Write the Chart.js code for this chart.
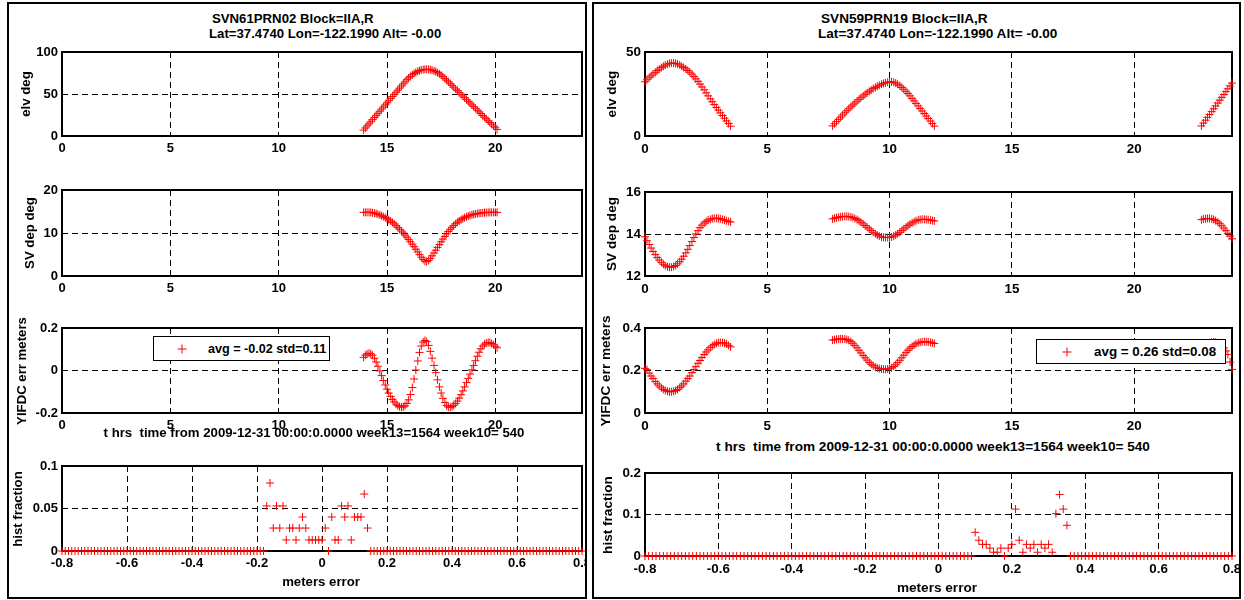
<!DOCTYPE html>
<html>
<head>
<meta charset="utf-8">
<script src="https://cdn.jsdelivr.net/npm/chart.js@4.4.1/dist/chart.umd.min.js"></script>
<style>
  html, body { margin: 0; padding: 0; background: #fff; }
  body { width: 1244px; height: 600px; position: relative; overflow: hidden;
         font-family: 'Liberation Sans', Arial, sans-serif; font-weight: bold; color: #000; }
  .panel { position: absolute; top: 2px; height: 597px; border: 2px solid #000;
           box-sizing: border-box; overflow: hidden; background: #fff; }
  .t { position: absolute; white-space: nowrap; font-size: 13.2px; line-height: 1; z-index: 2; }
  .r13 { font-size: 13.6px; }
  .lft { transform: translate(0, -50%); }
  .ctr { transform: translate(-50%, -50%); }
  .rot { transform: translate(-50%, -50%) rotate(-90deg); }
  .legend { position: absolute; border: 1px solid #000; background: #fff; z-index: 3; box-sizing: border-box; }
  .legend .lab { position: absolute; top: 50%; transform: translate(0, -50%); white-space: nowrap;
                 font-size: 12.6px; line-height: 1; }
  .mk { position: absolute; width: 9px; height: 9px; transform: translate(-50%, -50%); }
  .mk::before { content: ''; position: absolute; left: 4px; top: 0; width: 1px; height: 9px; background: #f00; }
  .mk::after  { content: ''; position: absolute; left: 0; top: 4px; width: 9px; height: 1px; background: #f00; }
</style>
</head>
<body>
<div id="panelL" class="panel" style="left:7px;width:580px;"></div>
<div id="panelR" class="panel" style="left:592px;width:649px;"></div>

<!-- left figure texts -->
<div class="t lft" style="left:212px;top:19.3px;">SVN61PRN02 Block=IIA,R</div>
<div class="t lft" style="left:209px;top:34.3px;">Lat=37.4740 Lon=-122.1990 Alt= -0.00</div>
<div class="t rot" style="left:25.7px;top:94px;">elv deg</div>
<div class="t rot" style="left:29.5px;top:233px;">SV dep deg</div>
<div class="t rot" style="left:22px;top:370.5px;">YIFDC err meters</div>
<div class="t rot" style="left:17.5px;top:508.5px;">hist fraction</div>
<div class="t ctr" style="left:314px;top:433.3px;">t hrs&nbsp; time from 2009-12-31 00:00:0.0000 week13=1564 week10= 540</div>
<div class="t ctr" style="left:321px;top:581.7px;">meters error</div>
<div class="legend" style="left:153px;top:336px;width:177px;height:25px;">
  <div class="mk" style="left:28px;top:12px;"></div>
  <div class="lab" style="left:54px;">avg = -0.02 std=0.11</div>
</div>

<!-- right figure texts -->
<div class="t r13 lft" style="left:821px;top:19.3px;">SVN59PRN19 Block=IIA,R</div>
<div class="t r13 lft" style="left:818px;top:34.3px;">Lat=37.4740 Lon=-122.1990 Alt= -0.00</div>
<div class="t r13 rot" style="left:611.7px;top:94px;">elv deg</div>
<div class="t r13 rot" style="left:611.7px;top:234px;">SV dep deg</div>
<div class="t r13 rot" style="left:605.6px;top:370.5px;">YIFDC err meters</div>
<div class="t r13 rot" style="left:607.7px;top:514.5px;">hist fraction</div>
<div class="t r13 ctr" style="left:933px;top:446.7px;">t hrs&nbsp; time from 2009-12-31 00:00:0.0000 week13=1564 week10= 540</div>
<div class="t r13 ctr" style="left:937px;top:588.3px;">meters error</div>
<div class="legend" style="left:1036px;top:339px;width:190px;height:25px;">
  <div class="mk" style="left:30px;top:12px;"></div>
  <div class="lab" style="left:57px;font-size:13.4px;">avg = 0.26 std=0.08</div>
</div>

<script>
// ---------------- SVN61 / PRN02 (hours since 2009-12-31 00:00) ----------------
const timeL = [13.92,
  14.00,14.08,14.17,14.25,14.33,14.42,14.50,14.58,14.67,14.75,14.83,14.92,
  15.00,15.08,15.17,15.25,15.33,15.42,15.50,15.58,15.67,15.75,15.83,15.92,
  16.00,16.08,16.17,16.25,16.33,16.42,16.50,16.58,16.67,16.75,16.83,16.92,
  17.00,17.08,17.17,17.25,17.33,17.42,17.50,17.58,17.67,17.75,17.83,17.92,
  18.00,18.08,18.17,18.25,18.33,18.42,18.50,18.58,18.67,18.75,18.83,18.92,
  19.00,19.08,19.17,19.25,19.33,19.42,19.50,19.58,19.67,19.75,19.83,19.92,
  20.00,20.08];
const elvL = [7.0,
  9.5,12.0,14.5,17.0,19.5,22.0,24.5,27.0,29.5,32.0,34.5,37.0,
  39.5,42.0,44.5,47.0,49.5,52.0,54.5,57.0,59.5,62.0,64.4,67.0,
  69.1,71.0,72.9,74.4,75.7,76.9,77.8,78.5,79.0,79.3,79.4,79.3,
  79.0,78.4,77.6,76.7,75.5,74.0,72.5,70.7,68.6,66.5,64.5,62.3,
  60.3,58.2,55.9,53.9,51.9,49.6,47.6,45.6,43.3,41.3,39.3,37.0,
  35.0,33.0,30.7,28.7,26.7,24.4,22.4,20.4,18.1,16.1,14.1,11.8,
  9.8,7.8];
const depL = [14.8,
  14.8,14.8,14.8,14.78,14.72,14.62,14.5,14.36,14.2,14.02,13.82,13.6,
  13.35,13.08,12.78,12.45,12.1,11.72,11.32,10.9,10.46,10.0,9.52,9.02,
  8.5,7.96,7.4,6.82,6.22,5.6,4.98,4.38,3.85,3.45,3.35,3.6,
  4.1,4.7,5.35,6.0,6.65,7.3,7.95,8.6,9.2,9.8,10.35,10.85,
  11.32,11.75,12.15,12.5,12.82,13.1,13.35,13.58,13.78,13.95,14.1,14.23,
  14.34,14.44,14.52,14.59,14.65,14.7,14.74,14.77,14.79,14.8,14.8,14.8,
  14.8,14.8];
const errL = [0.062,
  0.072,0.078,0.081,0.079,0.072,0.058,0.040,0.020,-0.002,-0.024,-0.047,-0.068,
  -0.088,-0.106,-0.122,-0.136,-0.148,-0.158,-0.165,-0.170,-0.172,-0.171,-0.166,-0.155,
  -0.138,-0.113,-0.080,-0.040,0.002,0.045,0.085,0.115,0.134,0.141,0.136,0.118,
  0.090,0.058,0.024,-0.010,-0.044,-0.077,-0.106,-0.131,-0.151,-0.165,-0.172,-0.173,
  -0.170,-0.164,-0.155,-0.144,-0.130,-0.114,-0.096,-0.077,-0.057,-0.037,-0.017,0.003,
  0.024,0.046,0.067,0.086,0.102,0.115,0.124,0.130,0.132,0.131,0.127,0.121,
  0.114,0.107];

// ---------------- SVN59 / PRN19 ----------------
const timeR = [
  0.00,0.08,0.17,0.25,0.33,0.42,0.50,0.58,0.67,0.75,0.83,0.92,
  1.00,1.08,1.17,1.25,1.33,1.42,1.50,1.58,1.67,1.75,1.83,1.92,
  2.00,2.08,2.17,2.25,2.33,2.42,2.50,2.58,2.67,2.75,2.83,2.92,
  3.00,3.08,3.17,3.25,3.33,3.42,3.50,
  7.67,7.75,7.83,7.92,
  8.00,8.08,8.17,8.25,8.33,8.42,8.50,8.58,8.67,8.75,8.83,8.92,
  9.00,9.08,9.17,9.25,9.33,9.42,9.50,9.58,9.67,9.75,9.83,9.92,
  10.00,10.08,10.17,10.25,10.33,10.42,10.50,10.58,10.67,10.75,10.83,10.92,
  11.00,11.08,11.17,11.25,11.33,11.42,11.50,11.58,11.67,11.75,11.83,
  22.75,22.83,22.92,
  23.00,23.08,23.17,23.25,23.33,23.42,23.50,23.58,23.67,23.75,23.83,23.92,
  24.00];
const elvR = [
  32.3,33.5,34.7,35.8,36.9,37.9,38.9,39.8,40.7,41.5,42.2,42.8,
  43.2,43.4,43.4,43.2,42.9,42.3,41.5,40.8,39.9,39.0,38.0,36.8,
  35.4,34.0,32.5,30.9,29.2,27.5,25.7,23.9,22.1,20.4,18.7,17.0,
  15.4,13.8,12.2,10.6,9.0,7.4,5.8,
  6.0,7.3,8.6,9.9,
  11.2,12.5,13.8,15.0,16.2,17.4,18.5,19.6,20.7,21.8,22.8,23.8,
  24.8,25.7,26.6,27.4,28.2,28.9,29.6,30.2,30.8,31.3,31.7,32.0,
  32.2,32.2,32.0,31.5,30.8,29.9,28.9,27.8,26.6,25.3,23.9,22.4,
  20.9,19.4,17.9,16.4,14.9,13.4,11.9,10.4,8.9,7.4,5.9,
  6.0,7.7,9.4,
  11.1,12.8,14.5,16.2,17.9,19.6,21.3,23.0,24.7,26.4,28.1,29.8,
  31.5];
const depR = [
  13.87,13.68,13.5,13.33,13.17,13.02,12.88,12.76,12.65,12.56,12.49,12.44,
  12.42,12.42,12.45,12.5,12.58,12.68,12.8,12.94,13.1,13.27,13.45,13.64,
  13.83,14.0,14.16,14.3,14.42,14.52,14.6,14.66,14.7,14.73,14.75,14.75,
  14.74,14.72,14.69,14.66,14.63,14.6,14.57,
  14.72,14.75,14.78,14.8,
  14.82,14.83,14.84,14.84,14.83,14.81,14.78,14.74,14.69,14.63,14.56,14.48,
  14.4,14.32,14.24,14.16,14.08,14.01,13.95,13.9,13.86,13.84,13.83,13.83,
  13.84,13.86,13.9,13.95,14.01,14.08,14.16,14.24,14.32,14.4,14.47,14.53,
  14.58,14.63,14.67,14.69,14.7,14.7,14.69,14.68,14.66,14.64,14.62,
  14.68,14.71,14.73,
  14.74,14.74,14.72,14.69,14.64,14.57,14.49,14.39,14.28,14.16,14.03,13.9,
  13.77];
const errR = [
  0.210,0.204,0.188,0.174,0.162,0.148,0.137,0.127,0.118,0.111,0.106,0.102,
  0.100,0.100,0.102,0.106,0.111,0.119,0.127,0.137,0.150,0.162,0.174,0.190,
  0.204,0.218,0.234,0.247,0.261,0.275,0.287,0.297,0.308,0.316,0.322,0.328,
  0.331,0.332,0.331,0.329,0.325,0.318,0.311,
  0.343,0.345,0.347,0.348,
  0.349,0.349,0.348,0.346,0.342,0.336,0.328,0.318,0.307,0.295,0.283,0.271,
  0.260,0.249,0.238,0.229,0.222,0.216,0.212,0.209,0.207,0.206,0.206,0.207,
  0.209,0.213,0.219,0.227,0.237,0.248,0.260,0.272,0.284,0.295,0.305,0.313,
  0.320,0.326,0.330,0.333,0.335,0.336,0.335,0.334,0.332,0.330,0.327,
  0.300,0.310,0.318,
  0.325,0.330,0.333,0.334,0.333,0.330,0.325,0.317,0.306,0.292,0.275,0.240,
  0.205];

// ---------------- error histograms (bin centres in metres) ----------------
const histBins = [
  -0.80,-0.79,-0.78,-0.77,-0.76,-0.75,-0.74,-0.73,-0.72,-0.71,
  -0.70,-0.69,-0.68,-0.67,-0.66,-0.65,-0.64,-0.63,-0.62,-0.61,
  -0.60,-0.59,-0.58,-0.57,-0.56,-0.55,-0.54,-0.53,-0.52,-0.51,
  -0.50,-0.49,-0.48,-0.47,-0.46,-0.45,-0.44,-0.43,-0.42,-0.41,
  -0.40,-0.39,-0.38,-0.37,-0.36,-0.35,-0.34,-0.33,-0.32,-0.31,
  -0.30,-0.29,-0.28,-0.27,-0.26,-0.25,-0.24,-0.23,-0.22,-0.21,
  -0.20,-0.19,-0.18,-0.17,-0.16,-0.15,-0.14,-0.13,-0.12,-0.11,
  -0.10,-0.09,-0.08,-0.07,-0.06,-0.05,-0.04,-0.03,-0.02,-0.01,
  0.00,0.01,0.02,0.03,0.04,0.05,0.06,0.07,0.08,0.09,
  0.10,0.11,0.12,0.13,0.14,0.15,0.16,0.17,0.18,0.19,
  0.20,0.21,0.22,0.23,0.24,0.25,0.26,0.27,0.28,0.29,
  0.30,0.31,0.32,0.33,0.34,0.35,0.36,0.37,0.38,0.39,
  0.40,0.41,0.42,0.43,0.44,0.45,0.46,0.47,0.48,0.49,
  0.50,0.51,0.52,0.53,0.54,0.55,0.56,0.57,0.58,0.59,
  0.60,0.61,0.62,0.63,0.64,0.65,0.66,0.67,0.68,0.69,
  0.70,0.71,0.72,0.73,0.74,0.75,0.76,0.77,0.78,0.79,
  0.80];
const histL = [
  0,0,0,0,0,0,0,0,0,0,
  0,0,0,0,0,0,0,0,0,0,
  0,0,0,0,0,0,0,0,0,0,
  0,0,0,0,0,0,0,0,0,0,
  0,0,0,0,0,0,0,0,0,0,
  0,0,0,0,0,0,0,0,0,0,
  0,0,0,0.053,0.080,0.027,0.053,0.027,0.053,0.013,
  0.027,0.027,0.013,0.027,0.040,0.027,0.013,0.013,0.013,0.013,
  0.013,0.027,0,0.040,0.013,0.013,0.053,0.040,0.053,0.013,
  0.040,0.040,0.040,0.067,0.027,0,0,0,0,0,
  0,0,0,0,0,0,0,0,0,0,
  0,0,0,0,0,0,0,0,0,0,
  0,0,0,0,0,0,0,0,0,0,
  0,0,0,0,0,0,0,0,0,0,
  0,0,0,0,0,0,0,0,0,0,
  0,0,0,0,0,0,0,0,0,0,
  0];
const histR = [
  0,0,0,0,0,0,0,0,0,0,
  0,0,0,0,0,0,0,0,0,0,
  0,0,0,0,0,0,0,0,0,0,
  0,0,0,0,0,0,0,0,0,0,
  0,0,0,0,0,0,0,0,0,0,
  0,0,0,0,0,0,0,0,0,0,
  0,0,0,0,0,0,0,0,0,0,
  0,0,0,0,0,0,0,0,0,0,
  0,0,0,0,0,0,0,0,0,0,
  0.057,0.038,0.028,0.028,0.019,0.009,0.009,0.019,0,0.019,
  0.028,0.113,0.038,0.009,0.028,0.019,0.028,0.009,0.028,0.019,
  0.028,0.009,0.102,0.148,0.113,0.074,0,0,0,0,
  0,0,0,0,0,0,0,0,0,0,
  0,0,0,0,0,0,0,0,0,0,
  0,0,0,0,0,0,0,0,0,0,
  0,0,0,0,0,0,0,0,0,0,
  0];

// ---------------- tick values and labels ----------------
const hourTicks = [0, 5, 10, 15, 20];
const hourLabels = ['0', '5', '10', '15', '20'];
const errTicks = [-0.8, -0.6, -0.4, -0.2, 0, 0.2, 0.4, 0.6, 0.8];
const errLabels = ['-0.8', '-0.6', '-0.4', '-0.2', '0', '0.2', '0.4', '0.6', '0.8'];

// ---------------- drawing ----------------
const FONT = "'Liberation Sans', Arial, sans-serif";
Chart.defaults.font.family = FONT;
Chart.defaults.font.weight = 'bold';
Chart.defaults.font.size = 13;
Chart.defaults.color = '#000';

// axis box around each plot area
const boxPlugin = {
  id: 'axisBox',
  beforeDatasetsDraw(chart) {
    const { ctx, chartArea: a } = chart;
    ctx.save();
    ctx.strokeStyle = '#000';
    ctx.lineWidth = 2;
    ctx.strokeRect(a.left, a.top, a.right - a.left, a.bottom - a.top);
    ctx.restore();
  }
};

const LY = 60, PT = 10, PR = 14, BX = 26;

function axis(min, max, ticks, labels, isX, size) {
  return {
    type: 'linear', min, max,
    afterBuildTicks: s => { s.ticks = ticks.map(v => ({ value: v })); },
    ticks: { padding: isX ? 5 : 4, autoSkip: false, maxRotation: 0, minRotation: 0,
             font: { size }, callback: (v, i) => labels[i] },
    grid: { color: '#000', lineWidth: 1, drawTicks: false },
    border: { display: false, dash: [6, 4] },
    afterFit: s => {
      if (isX) { s.height = BX; s.paddingLeft = 0; s.paddingRight = 0; }
      else { s.width = LY; s.paddingTop = 0; s.paddingBottom = 0; }
    }
  };
}

function plot(panelId, rect, xAxis, yAxis, xs, ys) {
  const panel = document.getElementById(panelId);
  const pr = panel.getBoundingClientRect();
  const ox = pr.left + 2, oy = pr.top + 2;
  const w = rect[2] - rect[0] + LY + PR;
  const h = rect[3] - rect[1] + PT + BX;
  const wrap = document.createElement('div');
  wrap.style.cssText = 'position:absolute;left:' + (rect[0] - LY - ox) + 'px;top:' + (rect[1] - PT - oy) +
    'px;width:' + w + 'px;height:' + h + 'px;';
  const cv = document.createElement('canvas');
  cv.width = w; cv.height = h;
  cv.style.width = w + 'px'; cv.style.height = h + 'px';
  wrap.appendChild(cv);
  panel.appendChild(wrap);
  new Chart(cv, {
    type: 'scatter',
    data: { datasets: [{
      data: xs.map((x, i) => ({ x, y: ys[i] })),
      pointStyle: 'cross', pointRadius: 4, pointHoverRadius: 4,
      borderColor: '#ff0000', backgroundColor: '#ff0000',
      pointBorderColor: '#ff0000', borderWidth: 1, pointBorderWidth: 1,
      clip: false
    }] },
    options: {
      responsive: false, animation: false, events: [],
      layout: { padding: { top: PT, right: PR, left: 0, bottom: 0 } },
      plugins: { legend: { display: false }, tooltip: { enabled: false } },
      scales: { x: xAxis, y: yAxis }
    },
    plugins: [boxPlugin]
  });
}

const hx = s => axis(0, 24, hourTicks, hourLabels, true, s);
const ex = s => axis(-0.8, 0.8, errTicks, errLabels, true, s);
const SL = 13, SR = 13.4;

// left figure
plot('panelL', [62, 52, 582, 136], hx(SL), axis(0, 100, [0, 50, 100], ['0', '50', '100'], false, SL), timeL, elvL);
plot('panelL', [62, 190, 582, 276], hx(SL), axis(0, 20, [0, 10, 20], ['0', '10', '20'], false, SL), timeL, depL);
plot('panelL', [62, 328, 582, 413], hx(SL), axis(-0.2, 0.2, [-0.2, 0, 0.2], ['-0.2', '0', '0.2'], false, SL), timeL, errL);
plot('panelL', [62, 466, 582, 551], ex(SL), axis(0, 0.1, [0, 0.05, 0.1], ['0', '0.05', '0.1'], false, SL), histBins, histL);

// right figure
plot('panelR', [645, 52, 1232, 136], hx(SR), axis(0, 50, [0, 50], ['0', '50'], false, SR), timeR, elvR);
plot('panelR', [645, 192, 1232, 276], hx(SR), axis(12, 16, [12, 14, 16], ['12', '14', '16'], false, SR), timeR, depR);
plot('panelR', [645, 328, 1232, 413], hx(SR), axis(0, 0.4, [0, 0.2, 0.4], ['0', '0.2', '0.4'], false, SR), timeR, errR);
plot('panelR', [645, 473, 1232, 556], ex(SR), axis(0, 0.2, [0, 0.1, 0.2], ['0', '0.1', '0.2'], false, SR), histBins, histR);
</script>
</body>
</html>
